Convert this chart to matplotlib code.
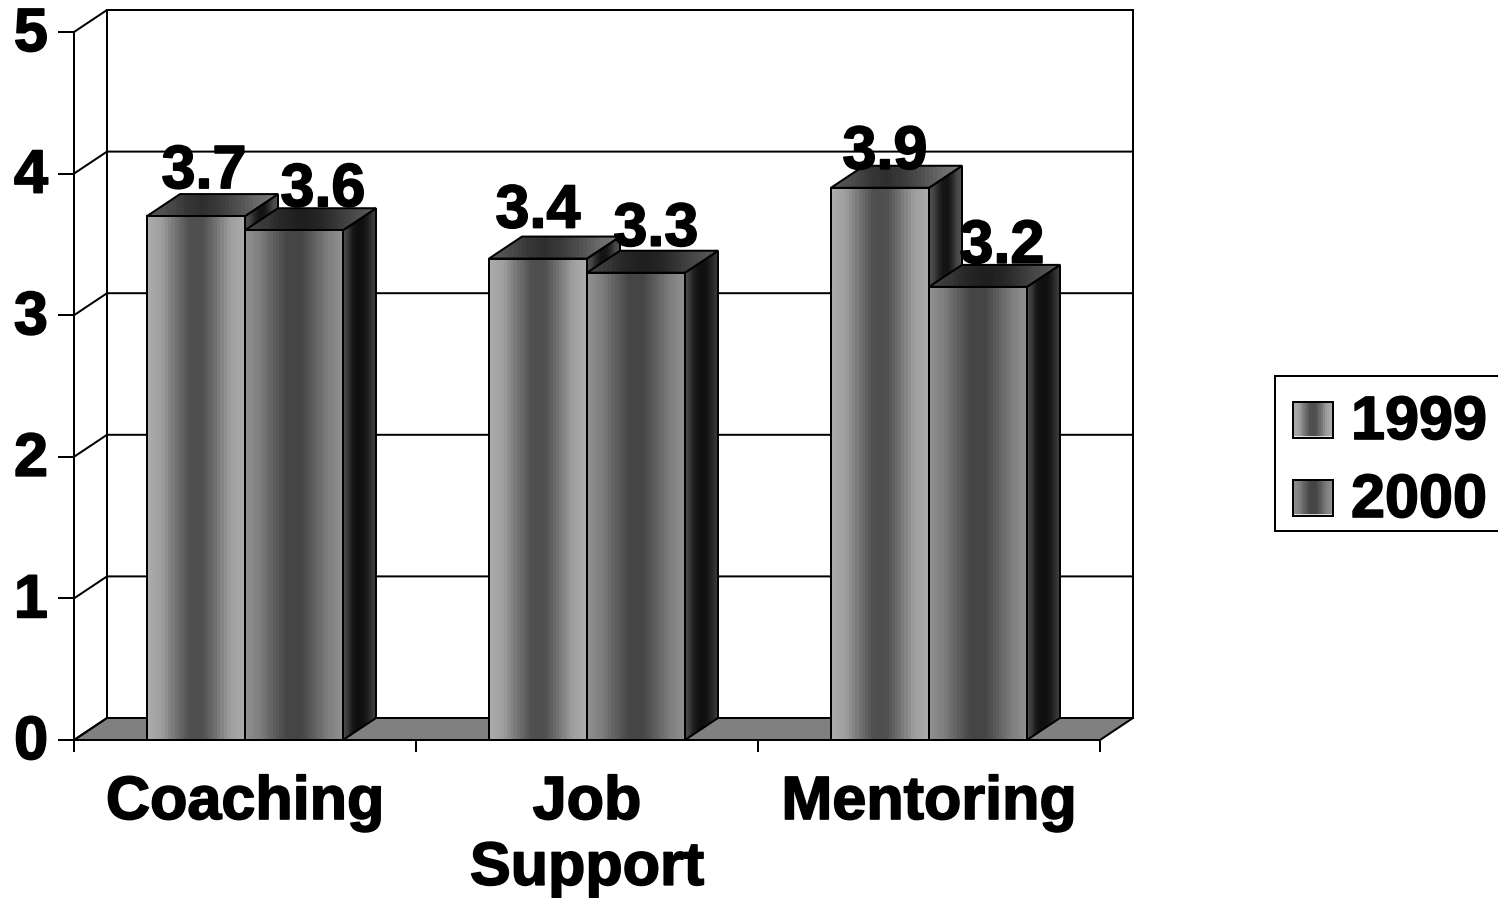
import numpy as np
import matplotlib
matplotlib.use('Agg')
import matplotlib.pyplot as plt
import matplotlib.patheffects as pe
from matplotlib.patches import Polygon, Rectangle
from matplotlib.transforms import ScaledTranslation

categories = ['Coaching', 'Job\nSupport', 'Mentoring']
series_names = ['1999', '2000']
values_1999 = [3.7, 3.4, 3.9]
values_2000 = [3.6, 3.3, 3.2]
y_ticks = [0, 1, 2, 3, 4, 5]

# label nudges in pixels from the bar's front top centre
label_dx = [[8, 0, 5], [29, 20, 24]]
label_dy = [[28, 31, 19], [24, 27, 24]]

BAR_W = 0.2865
DX = 33 / 342       # depth of the box, in data units
DY = 22 / 141.6
PX = 72 / 100       # one pixel in points
LW = 2 * PX
FONT = 'Liberation Sans'
FS = 44
HEAVY = [pe.withStroke(linewidth=1.2, foreground='black')]

# grey levels across each face, light/dark banding
front_g = [[0.67, 0.62, 0.45, 0.31, 0.31, 0.45, 0.62, 0.67],
           [0.56, 0.50, 0.37, 0.27, 0.27, 0.37, 0.50, 0.56]]
top_g = [[0.35, 0.30, 0.22, 0.18, 0.24, 0.32, 0.42, 0.48],
         [0.28, 0.22, 0.15, 0.12, 0.15, 0.22, 0.30, 0.36]]
side_g = [[0.32, 0.26, 0.16, 0.08, 0.08, 0.16, 0.28, 0.32],
          [0.30, 0.22, 0.10, 0.06, 0.06, 0.10, 0.18, 0.26]]


def bands(stops, n=32):
    g = np.interp(np.linspace(0, 1, n), np.linspace(0, 1, len(stops)), stops)
    return g.reshape(1, -1)


def shade(ax, pts, stops, z):
    pts = np.array(pts)
    poly = Polygon(pts, closed=True, fill=False, edgecolor='black', lw=LW,
                   joinstyle='miter', zorder=z + 0.5, clip_on=False)
    ax.add_patch(poly)
    im = ax.imshow(bands(stops), cmap='gray', vmin=0, vmax=1, aspect='auto',
                   interpolation='nearest', zorder=z,
                   extent=(pts[:, 0].min(), pts[:, 0].max(), pts[:, 1].min(), pts[:, 1].max()))
    im.set_clip_path(poly)


def box(ax, x, h, s, z):
    shade(ax, [(x + BAR_W, 0), (x + BAR_W + DX, DY), (x + BAR_W + DX, h + DY), (x + BAR_W, h)], side_g[s], z)
    shade(ax, [(x, h), (x + BAR_W, h), (x + BAR_W + DX, h + DY), (x + DX, h + DY)], top_g[s], z + 1)
    shade(ax, [(x, 0), (x + BAR_W, 0), (x + BAR_W, h), (x, h)], front_g[s], z + 2)


fig = plt.figure(figsize=(14.98, 8.98), dpi=100)
ax = fig.add_axes([74 / 1498, 158 / 898, 1026 / 1498, 708 / 898])

# floor and walls
ax.add_patch(Polygon([(0, 0), (DX, DY), (3 + DX, DY), (3, 0)], closed=True, facecolor='#808080',
                     edgecolor='black', lw=LW, zorder=1, clip_on=False))
for t in y_ticks:
    ax.plot([0, DX, 3 + DX], [t, t + DY, t + DY], color='black', lw=LW, clip_on=False, zorder=1.5)
ax.plot([DX, DX], [DY, 5 + DY], color='black', lw=LW, clip_on=False, zorder=1.5)
ax.plot([3 + DX, 3 + DX], [DY, 5 + DY], color='black', lw=LW, clip_on=False, zorder=1.5)

all_vals = [values_1999, values_2000]
for i in range(len(categories)):
    c = i + 0.5
    box(ax, c - BAR_W, values_1999[i], 0, 10 + 5 * i)
    box(ax, c, values_2000[i], 1, 14 + 5 * i)
    for s in range(2):
        cx = c - BAR_W / 2 if s == 0 else c + BAR_W / 2
        ax.annotate('%.1f' % all_vals[s][i], (cx, all_vals[s][i]),
                    xytext=(label_dx[s][i] * PX, label_dy[s][i] * PX), textcoords='offset points',
                    ha='center', va='baseline', fontsize=FS, fontweight='bold', family=FONT, zorder=60,
                    path_effects=HEAVY)

ax.set_xlim(0, 3)
ax.set_ylim(0, 5)
ax.set_yticks(y_ticks)
ax.set_xticks([0, 1, 2, 3])
ax.set_xticklabels([])
ax.set_xticks([0.5, 1.5, 2.5], minor=True)
ax.set_xticklabels(categories, minor=True, fontsize=FS, fontweight='bold', family=FONT, linespacing=1.2,
                   path_effects=HEAVY)
ax.tick_params(axis='x', which='minor', length=0, pad=35 * PX)
ax.tick_params(axis='x', which='major', length=12 * PX, width=LW)
ax.tick_params(axis='y', length=16 * PX, width=LW, pad=10 * PX)
# digits sit a little above their ticks
lift = ScaledTranslation(0, 3 * PX / 72, fig.dpi_scale_trans)
for lab in ax.get_yticklabels():
    lab.set_fontsize(FS)
    lab.set_fontweight('bold')
    lab.set_family(FONT)
    lab.set_path_effects(HEAVY)
    lab.set_transform(lab.get_transform() + lift)
for side in ['top', 'right']:
    ax.spines[side].set_visible(False)
for side in ['left', 'bottom']:
    ax.spines[side].set_linewidth(LW)
    ax.spines[side].set_zorder(40)

# legend box, runs past the right edge of the figure
leg = fig.add_axes([0, 0, 1, 1], facecolor='none')
leg.set_xlim(0, 1498)
leg.set_ylim(898, 0)
leg.axis('off')
leg.add_patch(Rectangle((1275, 376), 240, 155, facecolor='white', edgecolor='black', lw=LW))
for s, name in enumerate(series_names):
    y = 402 + 78 * s
    leg.imshow(bands(front_g[s], 20), cmap='gray', vmin=0, vmax=1, aspect='auto', interpolation='nearest',
               extent=(1293, 1333, y + 36, y), zorder=3)
    leg.plot([1294, 1332], [y + 34.5, y + 34.5], color='white', lw=1.5 * PX, zorder=3.5)
    leg.add_patch(Rectangle((1293, y), 40, 36, fill=False, edgecolor='black', lw=LW, zorder=4))
    leg.text(1351, y + 15, name, fontsize=FS, fontweight='bold', family=FONT, va='center_baseline', ha='left',
             path_effects=HEAVY)
leg.set_xlim(0, 1498)
leg.set_ylim(898, 0)

fig.savefig('out.png', dpi=100)
